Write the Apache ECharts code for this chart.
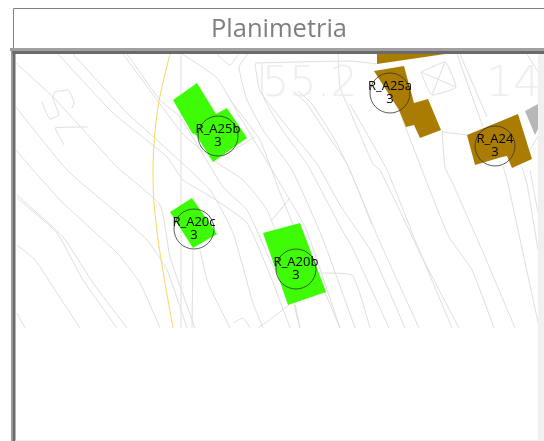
<!DOCTYPE html>
<html><head><meta charset="utf-8">
<style>html,body{margin:0;padding:0;background:#fff}#c{width:544px;height:441px}</style>
<script src="https://cdn.jsdelivr.net/npm/echarts@6/dist/echarts.min.js"></script>
</head><body><div id="c"></div>
<script>
const titleText = 'Planimetria';
const roomNames = ['R_A25b','R_A25a','R_A24','R_A20c','R_A20b'];
const roomValues = [3,3,3,3,3];
const roomX = [218,390,495,194,296];
const roomY = [136,93,146,229,269];
const greenBuildings = [
 [[197,83],[173,100],[192,133],[196,135],[213,162],[247,138],[227,108],[216,114]],
 [[192,198],[170,212],[193,248],[217,234]],
 [[300,223],[263,233],[288,305],[326,292]]
];
const brownBuildings = [
 [[377,54],[445,54],[377,64]],
 [[374,71],[404,66],[414,103],[428,99],[441,130],[420,138],[414,125],[406,127],[399,110]],
 [[467,135],[518,114],[532,159],[512,168],[507,156],[502,157],[475,165]]
];
const greyBuildings = [[[525,111],[538,104],[538,129],[535,135]]];
const boundaryLine = [[170,54],[158,107],[153,170],[154,203],[160,253],[173,328]];
const contourLines = [
 [[58,54],[113,113],[167,157],[183,180],[213,198],[247,223],[272,280],[290,328]],
 [[73,54],[127,113],[157,140],[210,190],[233,233],[253,303],[263,328]],
 [[123,54],[157,100],[182,133],[213,160],[243,180],[267,210],[285,260],[300,328]],
 [[127,54],[160,100],[180,117],[223,187],[247,210],[270,260],[290,300]],
 [[16,63],[53,97],[77,123],[117,167],[160,205],[170,257],[185,300],[195,328]],
 [[16,107],[67,170],[117,213],[147,240],[167,270],[187,328]],
 [[16,150],[33,170],[63,203],[117,253],[140,283],[160,328]],
 [[17,195],[63,237],[93,283],[127,328]],
 [[17,198],[57,233],[83,280],[117,328]],
 [[17,245],[35,260],[57,293],[80,328]],
 [[17,313],[25,328]],
 [[181,54],[181,200],[181,328]],
 [[193,250],[192,328]],
 [[200,250],[208,283],[230,328]],
 [[182,54],[217,78],[240,117],[272,170],[305,227],[340,328]],
 [[248,54],[239,67],[247,100],[263,130],[292,170],[322,237],[355,328]],
 [[230,100],[260,140],[280,193],[300,240],[326,295],[340,328]],
 [[262,63],[262,92],[283,131],[307,164],[342,230],[352,247],[389,328]],
 [[255,64],[260,91],[293,134],[317,164],[340,205],[372,253],[405,328]],
 [[293,91],[307,104],[327,134],[347,164],[379,240],[419,328]],
 [[298,91],[312,104],[335,140],[352,175],[372,225]],
 [[338,54],[340,87],[350,111],[373,164],[380,170],[422,257],[459,328]],
 [[350,104],[387,170],[415,240],[452,328]],
 [[399,110],[422,170],[449,237],[472,270],[494,328]],
 [[442,130],[445,167],[453,184],[485,257],[515,328]],
 [[457,54],[483,127]],
 [[460,54],[487,117]],
 [[503,166],[508,184],[539,327]],
 [[522,167],[527,184],[538,250]],
 [[530,170],[538,213]],
 [[527,54],[538,72]],
 [[322,273],[352,275],[370,328]],
 [[289,305],[272,318],[258,328]],
 [[294,305],[300,328]],
 [[290,198],[272,220]],
 [[217,160],[255,137]],
 [[442,132],[467,135]],
 [[255,63],[350,61],[377,64]],
 [[217,54],[230,65],[238,55]],
 [[233,323],[243,318],[250,328]],
 [[538,136],[530,150]],
 [[421,72],[445,62],[456,87],[432,95],[421,72]],
 [[421,72],[456,87]],
 [[445,62],[432,95]],
 [[42,102],[50,119],[59,115],[53,98],[55,92],[68,90],[74,103],[72,108]],
 [[88,127],[55,128],[64,145]]
];
const mapNumbers = [['55.2',262,98],['14,',486,98]];

const chart = echarts.init(document.getElementById('c'), null, {renderer:'canvas'});
const polygonSeries = (name, polys, color) => ({
  name, type:'custom', coordinateSystem:'cartesian2d', z:3,
  data: polys.map((p,i)=>[i]),
  renderItem:(params, api)=>({
    type:'polygon',
    shape:{points:polys[params.dataIndex].map(p=>api.coord(p))},
    style:{fill:color}
  }),
  silent:true
});
chart.setOption({
  animation:false,
  backgroundColor:'#fff',
  title:{text:titleText,left:274,top:12,textAlign:'center',
    textStyle:{fontFamily:'Open Sans',fontSize:25.5,fontWeight:'normal',color:'#7f7f7f'}},
  grid:{left:0,right:0,top:0,bottom:0,containLabel:false},
  xAxis:{type:'value',min:0,max:544,show:false},
  yAxis:{type:'value',min:0,max:441,inverse:true,show:false},
  graphic:[
    {type:'rect',shape:{x:13.5,y:8.5,width:531,height:40},style:{fill:'none',stroke:'#808080',lineWidth:1},z:20},
    {type:'rect',shape:{x:10,y:48,width:534,height:3},style:{fill:'#a0a0a0'},z:20},
    {type:'rect',shape:{x:11,y:51,width:533,height:3},style:{fill:'#6a6a6a'},z:20},
    {type:'rect',shape:{x:11,y:48,width:1.5,height:393},style:{fill:'#999'},z:20},
    {type:'rect',shape:{x:12.5,y:51,width:3,height:390},style:{fill:'#6a6a6a'},z:20},
    {type:'rect',shape:{x:538,y:54,width:6,height:387},style:{fill:'#f0f0f0'},z:20},
    {type:'rect',shape:{x:15.5,y:440,width:529,height:1},style:{fill:'#eeeeee'},z:20}
  ],
  series:[
    ...contourLines.map((pts,i)=>({
      name:'contour'+i,type:'line',data:pts,showSymbol:false,silent:true,z:1,
      lineStyle:{color:'#dedede',width:1},smooth:0.15
    })),
    {name:'boundary',type:'line',data:boundaryLine,showSymbol:false,silent:true,z:2,smooth:0.3,
      lineStyle:{color:'#fbd65e',width:1}},
    {name:'numbers',type:'scatter',symbolSize:0,silent:true,z:1,
      data:mapNumbers.map(m=>({value:[m[1],m[2]],name:m[0]})),
      label:{show:true,position:'inside',align:'left',verticalAlign:'bottom',offset:[0,8],formatter:'{b}',
        fontFamily:'DejaVu Sans',fontWeight:200,fontSize:43,color:'#eaeaea'}},
    polygonSeries('green',greenBuildings,'#3dfc05'),
    polygonSeries('brown',brownBuildings,'#ab7c02'),
    polygonSeries('grey',greyBuildings,'#b7b7b7'),
    {name:'rooms',type:'scatter',symbol:'circle',symbolSize:40,z:5,silent:true,
      data:roomNames.map((n,i)=>({name:n,value:[roomX[i],roomY[i],roomValues[i]]})),
      itemStyle:{color:'rgba(0,0,0,0)',borderColor:'#333',borderWidth:0.8,opacity:1},
      label:{show:true,position:'inside',
        formatter:p=>p.name+'\n'+p.value[2],
        fontFamily:'Open Sans',fontSize:13,lineHeight:13,color:'#000'}}
  ]
});
</script></body></html>
